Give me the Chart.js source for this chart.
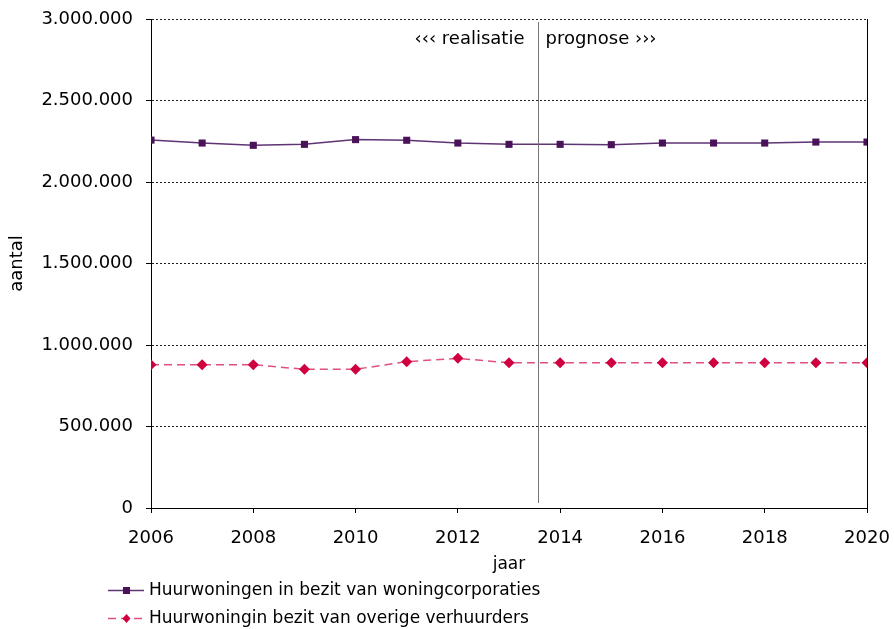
<!DOCTYPE html>
<html>
<head>
<meta charset="utf-8">
<script src="https://cdn.jsdelivr.net/npm/chart.js@4.4.0/dist/chart.umd.min.js"></script>
<style>
html,body{margin:0;padding:0;background:#fff;}
#wrap{width:894px;height:629px;position:relative;}
</style>
</head>
<body>
<div id="wrap"><canvas id="c" width="894" height="629"></canvas></div>
<script>
const years = [2006,2007,2008,2009,2010,2011,2012,2013,2014,2015,2016,2017,2018,2019,2020];
const corporaties = [2257000,2239000,2225000,2231000,2260000,2256000,2239000,2231000,2231000,2229000,2239000,2239000,2239000,2245000,2245000];
const overige = [879000,879000,879000,851000,851000,898000,918000,891000,891000,891000,891000,891000,891000,891000,891000];
const seriesLabels = ['Huurwoningen in bezit van woningcorporaties','Huurwoningin bezit van overige verhuurders'];
const yTicks = [0,500000,1000000,1500000,2000000,2500000,3000000];
const xTicks = [2006,2008,2010,2012,2014,2016,2018,2020];
const dividerYear = 2013.57;
const leftText = '‹‹‹ realisatie';
const rightText = 'prognose ›››';
const FONT = '"DejaVu Sans", Verdana, sans-serif';

function fmt(v){ return String(v).replace(/\B(?=(\d{3})+(?!\d))/g,'.'); }

const extras = {
  id:'extras',
  afterDatasetsDraw(chart){
    const ctx = chart.ctx, a = chart.chartArea, xs = chart.scales.x;
    ctx.save();
    ctx.strokeStyle='#000'; ctx.lineWidth=1; ctx.setLineDash([]);
    ctx.beginPath(); ctx.moveTo(Math.round(a.right)+0.5,a.top); ctx.lineTo(Math.round(a.right)+0.5,a.bottom); ctx.stroke();
    const dx = Math.round(xs.getPixelForValue(dividerYear))+0.5;
    ctx.strokeStyle='#777';
    ctx.beginPath(); ctx.moveTo(dx,a.top+3); ctx.lineTo(dx,a.bottom-5); ctx.stroke();
    ctx.fillStyle='#000'; ctx.font='18px '+FONT; ctx.textBaseline='middle';
    ctx.textAlign='right'; ctx.fillText(leftText,dx-14,a.top+20);
    ctx.textAlign='left'; ctx.fillText(rightText,dx+7,a.top+20);
    chart.data.datasets.forEach((ds,i)=>{
      const y = 590 + i*28;
      ctx.strokeStyle = ds.borderColor; ctx.lineWidth = ds.borderWidth;
      ctx.setLineDash(ds.borderDash||[]);
      ctx.beginPath(); ctx.moveTo(108,y+0.5); ctx.lineTo(144,y+0.5); ctx.stroke();
      ctx.setLineDash([]);
      ctx.fillStyle = ds.pointBackgroundColor;
      if(ds.pointStyle==='rect'){ ctx.fillRect(123,y-3,7,7); }
      else { ctx.beginPath(); ctx.moveTo(126.5,y-4); ctx.lineTo(130.5,y+0.5); ctx.lineTo(126.5,y+5); ctx.lineTo(122.5,y+0.5); ctx.closePath(); ctx.fill(); }
      ctx.fillStyle='#000'; ctx.font='17px '+FONT; ctx.textAlign='left'; ctx.textBaseline='middle';
      ctx.fillText(ds.label,149,y+1);
    });
    ctx.restore();
  }
};

new Chart(document.getElementById('c'),{
  type:'line',
  data:{
    datasets:[
      {label:seriesLabels[0], data:years.map((x,i)=>({x:x,y:corporaties[i]})),
       borderColor:'#5e3474', borderWidth:1.5, pointStyle:'rect', pointRadius:5,
       pointBackgroundColor:'#4a1258', pointBorderColor:'#4a1258', pointBorderWidth:0, tension:0},
      {label:seriesLabels[1], data:years.map((x,i)=>({x:x,y:overige[i]})),
       borderColor:'#e0507e', borderWidth:1.5, borderDash:[8,5], pointStyle:'rectRot', pointRadius:5.5,
       pointBackgroundColor:'#d0003f', pointBorderColor:'#d0003f', pointBorderWidth:0, tension:0}
    ]
  },
  options:{
    responsive:false, animation:false,
    layout:{padding:{left:0,right:27,top:19,bottom:54}},
    plugins:{legend:{display:false}, tooltip:{enabled:false}},
    scales:{
      x:{type:'linear', min:2006, max:2020,
        afterBuildTicks(s){ s.ticks = xTicks.map(v=>({value:v})); },
        afterFit(s){ s.paddingLeft = 0; s.paddingRight = 0; },
        ticks:{color:'#000', font:{family:FONT,size:18}, padding:15, maxRotation:0, autoSkip:false, callback:v=>String(v)},
        grid:{drawOnChartArea:false, drawTicks:true, tickLength:5, color:'#000'},
        border:{color:'#000', width:1},
        title:{display:true, text:'jaar', color:'#000', font:{family:FONT,size:17}, padding:{top:-10,bottom:0}}
      },
      y:{min:0, max:3000000,
        afterBuildTicks(s){ s.ticks = yTicks.map(v=>({value:v})); },
        afterFit(s){ s.width = 151; s.paddingTop = 0; s.paddingBottom = 0; },
        ticks:{color:'#000', font:{family:FONT,size:18}, padding:13, callback:v=>fmt(v)},
        grid:{color:'#222', lineWidth:1, tickLength:5, tickColor:'#000', drawTicks:true},
        border:{color:'#000', width:1, dash:[2,2]},
        title:{display:true, text:'aantal', color:'#000', font:{family:FONT,size:18}, padding:{top:7,bottom:10}}
      }
    }
  },
  plugins:[extras]
});
</script>
</body>
</html>
